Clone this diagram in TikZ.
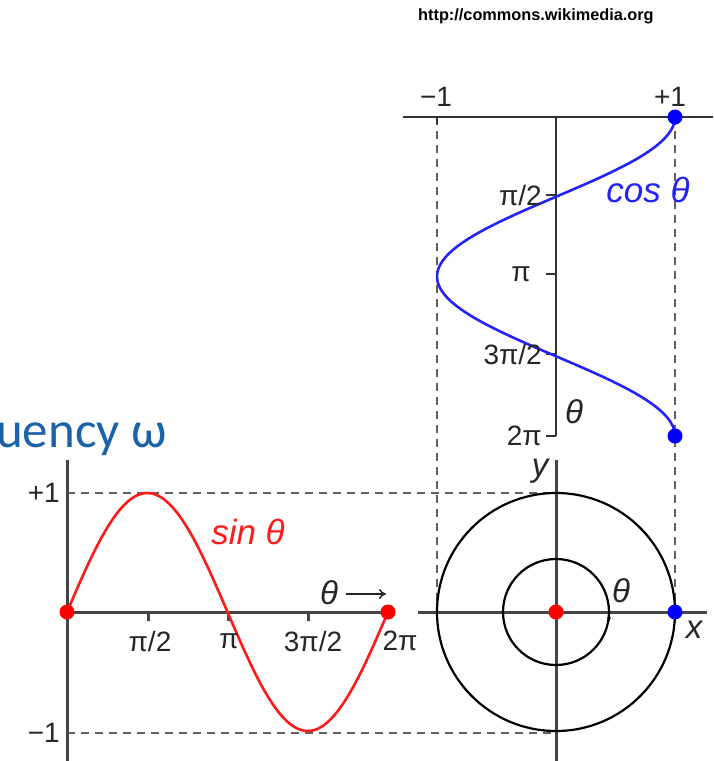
\documentclass[tikz,border=0pt]{standalone}
\usepackage{fontspec}
\setmainfont{Liberation Sans}
\newfontfamily\calib{Carlito}
\usetikzlibrary{arrows.meta}
\definecolor{axisgray}{HTML}{454545}
\definecolor{dashgray}{HTML}{606060}
\definecolor{titleblue}{HTML}{1B62A8}
\definecolor{sinred}{HTML}{FF1A1A}
\definecolor{cosblue}{HTML}{2323F5}
\tikzset{
  axis/.style={draw=axisgray, line width=3pt},
  caxis/.style={draw=black!80, line width=2.4pt},
  guide/.style={draw=dashgray, line width=1.8pt, dash pattern=on 8pt off 6pt},
  circ/.style={draw=black, line width=2.2pt},
  lbl/.style={font=\fontsize{28}{28}\selectfont, text=black!85, inner sep=0pt},
  ilbl/.style={font=\itshape\fontsize{33}{33}\selectfont, text=black!85, inner sep=0pt},
  dotr/.style={circle, fill=red, inner sep=0pt, minimum size=15pt},
  dotb/.style={circle, fill=blue, inner sep=0pt, minimum size=15pt},
}
\begin{document}
\begin{tikzpicture}[x=1pt, y=-1pt]
\useasboundingbox (0,0) rectangle (713,761);
\fill[white] (0,0) rectangle (713,761);
% watermark
\node[font=\bfseries\fontsize{16.3}{16.3}\selectfont, anchor=west, inner sep=0pt] (url) at (418,16) {http://commons.wikimedia.org};
% title fragment
\node[font=\calib\fontsize{51}{51}\selectfont, text=titleblue, anchor=base west, inner sep=0pt] (title) at (-4,447) {uency ω};
% coordinates
\coordinate (O) at (556,612);
\coordinate (S0) at (67,612);
\coordinate (S2pi) at (388,612);
\coordinate (C0) at (675,117);
\coordinate (C2pi) at (675,436);
\coordinate (P) at (675,612);
% dashed guides
\draw[guide] (437,117) -- (437,612);
\draw[guide] (C0) -- (P);
\draw[guide] (67,493) -- (556,493);
\draw[guide] (67,733) -- (556,733);
% cos axes
\draw[caxis] (403,117) -- (713,117);
\draw[caxis] (556,117) -- (556,436);
\draw[caxis] (437,117) -- (437,124);
\foreach \yy in {195,274,354,436} \draw[caxis] (546,\yy) -- (556,\yy);
% sin axes
\draw[axis] (67,460) -- (67,761);
\draw[axis] (67,612) -- (390,612);
\foreach \xx in {148,228,308} \draw[axis] (\xx,612) -- (\xx,621);
% circle axes
\draw[axis] (418,612) -- (707,612);
\draw[axis] (556,460) -- (556,761);
% circles
\draw[circ] (O) circle[radius=119];
\draw[circ] (O) circle[radius=53];
\draw[black, line width=1.2pt, -{Stealth[length=5pt,width=4pt]}] (609,612) -- (609,622);
% curves
\draw[sinred, line width=2.6pt] plot[domain=0:360, samples=120] ({67+\x/360*321},{612-119*sin(\x)});
\draw[cosblue, line width=2.6pt] plot[domain=0:360, samples=120] ({556+119*cos(\x)},{117+\x/360*319});
% dots
\node[dotr] (d1) at (S0) {};
\node[dotr] (d2) at (S2pi) {};
\node[dotr] (d3) at (O) {};
\node[dotb] (d4) at (C0) {};
\node[dotb] (d5) at (C2pi) {};
\node[dotb] (d6) at (P) {};
% labels: cos graph
\node[lbl] (m1) at (436,97) {−1};
\node[lbl] (p1) at (670,97) {+1};
\node[lbl, anchor=east] (c1) at (542,195) {π/2};
\node[lbl, anchor=east] (c2) at (531,274) {π};
\node[lbl, anchor=east] (c3) at (542,354) {3π/2};
\node[lbl, anchor=east] (c4) at (542,436) {2π};
\node[ilbl] (th1) at (574,412) {θ};
\node[font=\itshape\fontsize{35}{35}\selectfont, text=cosblue, inner sep=0pt] (cosl) at (648,190) {cos θ};
% labels: sin graph
\node[lbl, anchor=east] (sp1) at (60,493) {+1};
\node[lbl, anchor=east] (sm1) at (60,733) {−1};
\node[lbl] (s1) at (150,641) {π/2};
\node[lbl] (s2) at (229,641) {π};
\node[lbl] (s3) at (313,641) {3π/2};
\node[lbl] (s4) at (400,641) {2π};
\node[ilbl] (tha) at (329,593) {θ};
\coordinate (arrEnd) at (386,594);
\draw[black!85, line width=1.5pt, -{To[length=7pt,width=10pt]}] (tha.east) ++(8,1) -- (arrEnd);
\node[font=\itshape\fontsize{35}{35}\selectfont, text=sinred, inner sep=0pt] (sinl) at (248,532) {sin θ};
% labels: circle
\node[ilbl] (yl) at (540,471) {y};
\node[ilbl] (xl) at (694,630) {x};
\node[ilbl] (th2) at (621,591) {θ};
\end{tikzpicture}
\end{document}
